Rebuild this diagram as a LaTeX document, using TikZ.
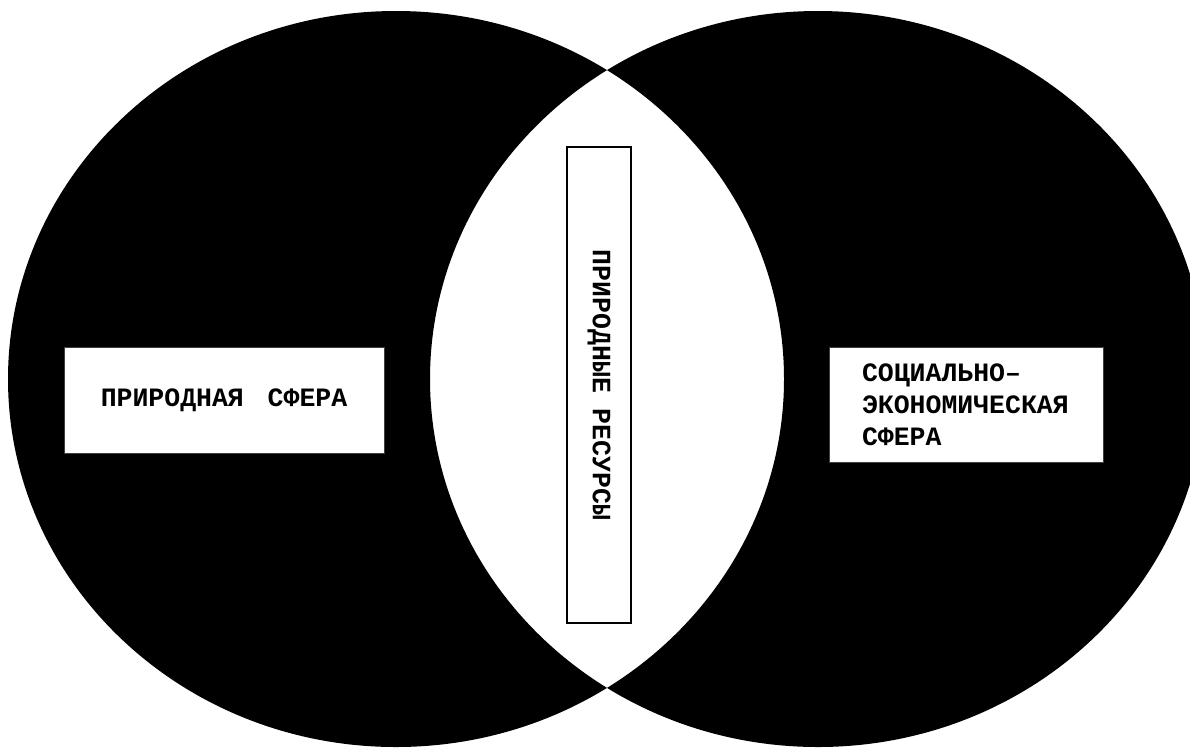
\documentclass[tikz,border=0pt]{standalone}
\usepackage{fontspec}
\setmonofont{Liberation Mono}
\usetikzlibrary{positioning}
\begin{document}
\begin{tikzpicture}[x=1pt,y=-1pt,
  font=\ttfamily\bfseries\fontsize{26.5}{32}\selectfont,
  sphere/.style={fill=black,even odd rule},
  lbl/.style={draw=black!75,line width=0.9pt,fill=white,inner sep=0pt}]
  \useasboundingbox (0,0) rectangle (1190,748);
  \fill[white] (0,0) rectangle (1190,748);
  \begin{scope}
    \clip (0,0) rectangle (1190,748);
    \path[sphere] (396,379) ellipse [x radius=388,y radius=368] (818,379) ellipse [x radius=388,y radius=368];
  \end{scope}
  \node[lbl,minimum width=320,minimum height=106] (natbox) at (224,400) {ПРИРОДНАЯ\hspace{0.3em} СФЕРА};
  \node[lbl,draw=black,line width=1.4pt,rotate=-90,minimum width=476,minimum height=64] (resbox) at (599,385) {ПРИРОДНЫЕ РЕСУРСЫ};
  \node[lbl,text width=208,align=left,inner xsep=33,minimum height=115] (socbox) at (966,405) {СОЦИАЛЬНО–\\ЭКОНОМИЧЕСКАЯ\\СФЕРА};
\end{tikzpicture}
\end{document}
